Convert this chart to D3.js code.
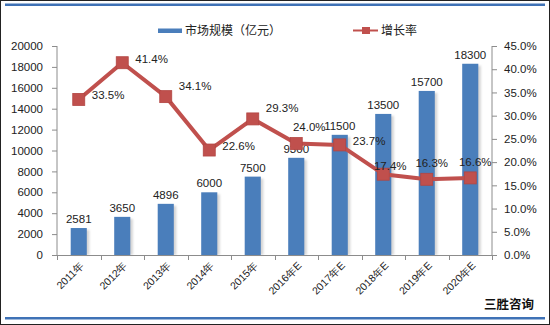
<!DOCTYPE html>
<html>
<head>
<meta charset="utf-8">
<script src="https://cdn.jsdelivr.net/npm/d3@7/dist/d3.min.js"></script>
<style>
  html, body { margin: 0; padding: 0; background: #fff; }
  svg { display: block; }
  text { font-family: "Liberation Sans", Arial, sans-serif; }
</style>
</head>
<body>
<svg id="chart" width="550" height="325"></svg>
<script>
// Market size (100M CNY) and growth rate by year
const years = ["2011年", "2012年", "2013年", "2014年", "2015年", "2016年E", "2017年E", "2018年E", "2019年E", "2020年E"];
const marketSize = [2581, 3650, 4896, 6000, 7500, 9300, 11500, 13500, 15700, 18300];
const growthRate = [33.5, 41.4, 34.1, 22.6, 29.3, 24.0, 23.7, 17.4, 16.3, 16.6];
const leftTicks = [0, 2000, 4000, 6000, 8000, 10000, 12000, 14000, 16000, 18000, 20000];
const rightTicks = [0, 5, 10, 15, 20, 25, 30, 35, 40, 45];
// where each growth label sits relative to its marker
const rateLabelSide = ["right", "right", "upright", "right", "upright", "aboveright", "right", "near", "above", "above"];

const placements = {
  right:      { anchor: "start",  dx: 13, dy: -4 },
  upright:    { anchor: "start",  dx: 13, dy: -11 },
  aboveright: { anchor: "middle", dx: 13, dy: -17 },
  near:       { anchor: "middle", dx: 7,  dy: -8 },
  above:      { anchor: "middle", dx: 5,  dy: -16 }
};

const svg = d3.select("#chart");
const W = 550, H = 325;
const plotLeft = 57, plotRight = 492, plotTop = 46, plotBottom = 255;

const barBlue = "#4a7ebb";
const lineRed = "#c0504d";
const axisGrey = "#8c8c8c";

// outer frame and blue rules
svg.append("rect").attr("x", 0.5).attr("y", 0.5).attr("width", W - 1).attr("height", H - 1)
  .attr("fill", "#fff").attr("stroke", "#222").attr("stroke-width", 1);
svg.append("rect").attr("x", 5).attr("y", 3.5).attr("width", 540).attr("height", 2.5).attr("fill", "#3f72b6");
svg.append("rect").attr("x", 5).attr("y", 317).attr("width", 540).attr("height", 2.5).attr("fill", "#3f72b6");

const x = d3.scaleBand().domain(years).range([plotLeft, plotRight]).paddingInner(0.63).paddingOuter(0.315);
const xb = d3.scaleBand().domain(years).range([plotLeft, plotRight]);
const yL = d3.scaleLinear().domain([0, 20000]).range([plotBottom, plotTop]);
const yR = d3.scaleLinear().domain([0, 45]).range([plotBottom, plotTop]);

const defs = svg.append("defs");
defs.append("filter").attr("id", "soft").attr("x", "-50%").attr("y", "-10%").attr("width", "200%").attr("height", "120%")
  .append("feGaussianBlur").attr("stdDeviation", 1.2);

// bar shadows
svg.append("g").selectAll("rect").data(marketSize).join("rect")
  .attr("x", (d, i) => x(years[i]) + 2.5)
  .attr("y", d => yL(d) + 2)
  .attr("width", x.bandwidth())
  .attr("height", d => plotBottom - yL(d) - 2)
  .attr("fill", "#b8b8b8").attr("opacity", 0.6).attr("filter", "url(#soft)");

// bars
svg.append("g").selectAll("rect").data(marketSize).join("rect")
  .attr("x", (d, i) => x(years[i]))
  .attr("y", d => yL(d))
  .attr("width", x.bandwidth())
  .attr("height", d => plotBottom - yL(d))
  .attr("fill", barBlue);

// left axis
const axL = svg.append("g").attr("transform", `translate(${plotLeft},0)`)
  .call(d3.axisLeft(yL).tickValues(leftTicks).tickSize(5).tickPadding(9).tickFormat(d3.format("d")));
axL.select(".domain").attr("stroke", axisGrey).attr("d", `M0,${plotTop}V${plotBottom}`);
axL.selectAll(".tick line").attr("stroke", axisGrey);
axL.selectAll("text").attr("font-size", 11.5).attr("fill", "#222")
  .style("font-family", "'Liberation Sans', Arial, sans-serif");

// right axis
const axR = svg.append("g").attr("transform", `translate(${plotRight},0)`)
  .call(d3.axisRight(yR).tickValues(rightTicks).tickSize(5).tickPadding(7).tickFormat(d => d.toFixed(1) + "%"));
axR.select(".domain").attr("stroke", axisGrey).attr("d", `M0,${plotTop}V${plotBottom}`);
axR.selectAll(".tick line").attr("stroke", axisGrey);
axR.selectAll("text").attr("font-size", 11.5).attr("fill", "#222")
  .style("font-family", "'Liberation Sans', Arial, sans-serif");

// bottom axis: baseline with ticks at category boundaries
const gx = svg.append("g");
gx.append("line").attr("x1", plotLeft).attr("x2", plotRight).attr("y1", plotBottom + 0.5).attr("y2", plotBottom + 0.5).attr("stroke", axisGrey);
gx.selectAll("line.tk").data(years.concat(["end"])).join("line").attr("class", "tk")
  .attr("x1", (d, i) => Math.round(plotLeft + i * xb.bandwidth()) + 0.5)
  .attr("x2", (d, i) => Math.round(plotLeft + i * xb.bandwidth()) + 0.5)
  .attr("y1", plotBottom).attr("y2", plotBottom + 5).attr("stroke", axisGrey);
gx.selectAll("text").data(years).join("text")
  .attr("transform", d => `translate(${xb(d) + xb.bandwidth() / 2 + 6},${plotBottom + 11}) rotate(-45)`)
  .attr("text-anchor", "end")
  .attr("font-size", 10.5).attr("fill", "#222")
  .text(d => d);

// bar value labels
svg.append("g").selectAll("text").data(marketSize).join("text")
  .attr("x", (d, i) => x(years[i]) + x.bandwidth() / 2)
  .attr("y", d => yL(d) - 5)
  .attr("text-anchor", "middle")
  .attr("font-size", 11.5).attr("fill", "#222")
  .text(d => d);

// growth line
const cx = i => xb(years[i]) + xb.bandwidth() / 2;
svg.append("path").datum(growthRate)
  .attr("d", d3.line().x((d, i) => cx(i)).y(d => yR(d)))
  .attr("fill", "none").attr("stroke", lineRed).attr("stroke-width", 4).attr("stroke-linejoin", "round");
svg.append("g").selectAll("rect").data(growthRate).join("rect")
  .attr("x", (d, i) => cx(i) - 6).attr("y", d => yR(d) - 6)
  .attr("width", 12).attr("height", 12)
  .attr("fill", lineRed).attr("stroke", "#b24542").attr("stroke-width", 0.8);

// growth labels (dy is offset of the text's vertical centre from the marker)
svg.append("g").selectAll("text").data(growthRate).join("text")
  .each(function (d, i) {
    const p = placements[rateLabelSide[i]];
    d3.select(this)
      .attr("x", cx(i) + p.dx)
      .attr("y", yR(d) + p.dy + 4)
      .attr("text-anchor", p.anchor);
  })
  .attr("font-size", 11.5).attr("fill", "#222")
  .text(d => d.toFixed(1) + "%");

// legend
const lg = svg.append("g");
lg.append("rect").attr("x", 158).attr("y", 28.5).attr("width", 24).attr("height", 4.5).attr("fill", barBlue);
lg.append("text").attr("x", 185).attr("y", 35).attr("font-size", 12).attr("fill", "#222")
  .style("font-family", "'Noto Sans CJK SC', sans-serif").text("市场规模（亿元）");
lg.append("line").attr("x1", 353).attr("x2", 378).attr("y1", 30.5).attr("y2", 30.5).attr("stroke", lineRed).attr("stroke-width", 2);
lg.append("rect").attr("x", 362).attr("y", 27).attr("width", 8).attr("height", 7).attr("fill", lineRed);
lg.append("text").attr("x", 381).attr("y", 35).attr("font-size", 12).attr("fill", "#222")
  .style("font-family", "'Noto Sans CJK SC', sans-serif").text("增长率");

// source mark
svg.append("text").attr("x", 534).attr("y", 309).attr("text-anchor", "end")
  .attr("font-size", 12.5).attr("font-weight", "bold").attr("fill", "#111")
  .style("font-family", "'Noto Sans CJK SC', sans-serif").text("三胜咨询");
</script>
</body>
</html>
